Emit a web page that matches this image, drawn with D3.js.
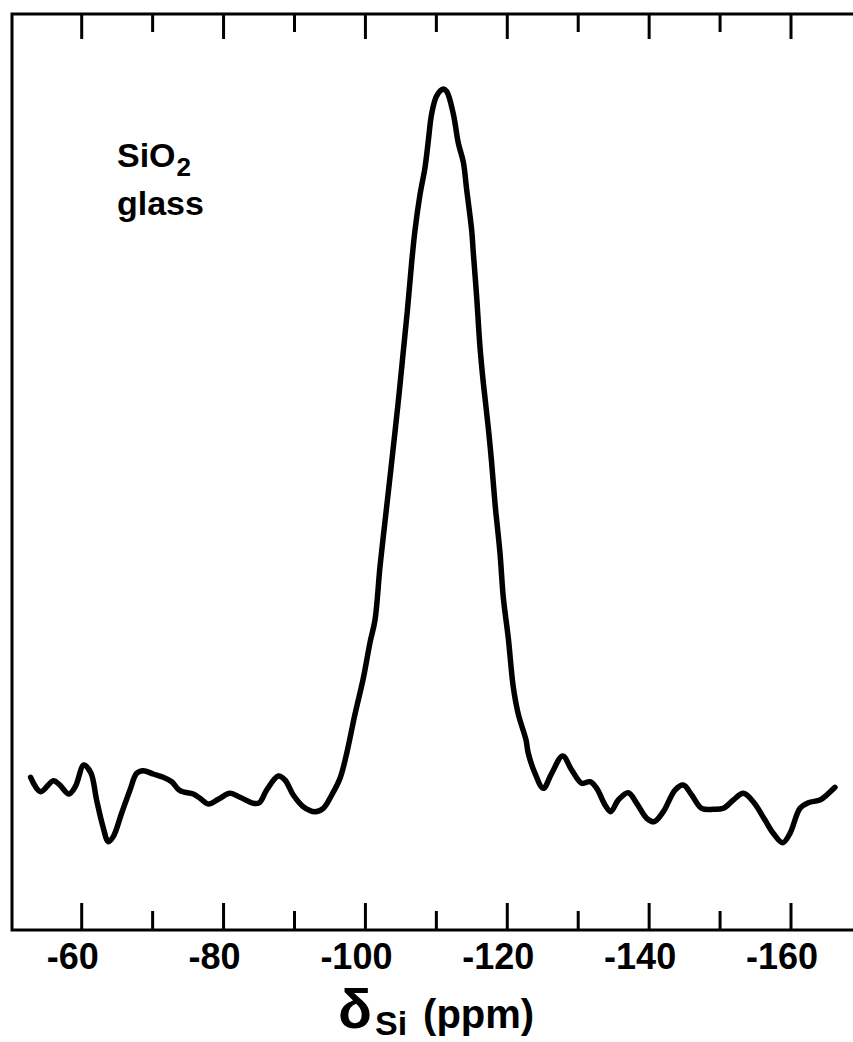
<!DOCTYPE html>
<html>
<head>
<meta charset="utf-8">
<script src="https://cdn.jsdelivr.net/npm/d3@7"></script>
<style>
  html, body { margin: 0; padding: 0; background: #fff; }
  svg { display: block; }
</style>
</head>
<body>
<div id="chart"></div>
<script>
// ---- data ----
const shiftPpm = [
  -52.8, -54.2, -56.0, -56.9, -58.2, -59.1, -60.3, -61.3, -62.1, -63.0,
  -63.75, -64.45, -65.64, -66.81, -67.75, -68.68, -70.09, -71.5, -72.69, -73.86,
  -75.73, -76.68, -77.85, -79.26, -80.91, -82.32, -84.19, -85.04, -86.08, -87.72,
  -88.66, -89.83, -91.24, -92.89, -94.06, -95.25, -96.42, -97.36,
  -98.53, -99.7, -100.65, -101.35, -102.06, -102.76, -103.47, -104.17, -104.78, -105.34,
  -105.91, -106.53, -106.99, -107.7, -108.4, -108.87, -109.34, -110.05, -110.98,
  -111.46, -112.39, -113.09, -113.8, -114.28, -114.98, -115.21, -115.69, -116.15, -116.62,
  -117.32, -117.8, -118.27, -118.97, -119.44, -120.14, -120.85, -121.55, -122.64, -122.96,
  -123.91, -125.08, -126.26, -127.81, -129.08, -130.49, -131.66, -132.61, -133.78, -134.58,
  -135.65, -137.06, -138.25, -139.66, -140.69, -142.0, -143.65, -144.82, -146.0, -147.41,
  -149.05, -150.46, -151.87, -153.27, -154.68, -156.33, -157.5, -158.83, -159.86, -161.27,
  -162.44, -164.09, -165.03, -166.2
];
const intensity = [
  3.19, 1.17, 2.71, 2.11, 0.84, 1.87, 4.92, 3.79, 0.0, -3.75,
  -5.86, -5.15, -1.83, 1.4, 3.75, 4.12, 3.65, 3.19, 2.57, 1.31,
  0.84, 0.24, -0.56, 0.1, 0.94, 0.38, -0.46, -0.38, 1.4, 3.37,
  2.81, 0.7, -0.94, -1.64, -1.17, 0.7, 3.05, 6.56,
  12.06, 17.09, 22.13, 25.28, 32.82, 39.12, 45.41, 51.7, 57.37, 63.03,
  68.69, 75.62, 80.03, 85.06, 88.83, 92.61, 96.38, 98.9, 99.85,
  99.52, 96.38, 92.3, 89.6, 85.69, 80.03, 76.88, 70.58, 63.67, 58.62,
  52.33, 47.3, 41.64, 34.72, 28.43, 22.77, 15.84, 12.06, 8.43, 6.56,
  3.75, 1.64, 3.75, 6.18, 4.21, 2.35, 2.57, 1.64, -0.7, -1.64,
  0.0, 1.03, -0.46, -2.57, -3.05, -1.64, 1.4, 2.11, 0.7, -1.17,
  -1.31, -1.17, 0.0, 0.94, -0.24, -2.81, -4.68, -6.0, -4.68, -1.17,
  -0.38, 0.0, 0.7, 1.78
];
const majorTicks = [-60, -80, -100, -120, -140, -160];
const minorTicks = [-70, -90, -110, -130, -150];
const tickLabels = ["-60", "-80", "-100", "-120", "-140", "-160"];
const sampleLabel = ["SiO", "2"];
const sampleLabel2 = "glass";
const axisTitle = { symbol: "δ", sub: "Si", unit: "(ppm)" };

// ---- layout ----
const W = 853, H = 1042;
const frame = { left: 12, top: 14, right: 875, bottom: 930 };

const x = d3.scaleLinear().domain([-60, -160]).range([81.7, 791]);
const y = d3.scaleLinear().domain([-18.26, 110.4]).range([frame.bottom, frame.top]);

const svg = d3.select("#chart").append("svg")
  .attr("width", W).attr("height", H)
  .style("background", "#fff");

const ink = "#000";
const font = "'Liberation Sans', Arial, sans-serif";

// frame
svg.append("rect")
  .attr("x", frame.left).attr("y", frame.top)
  .attr("width", frame.right - frame.left).attr("height", frame.bottom - frame.top)
  .attr("fill", "none").attr("stroke", ink).attr("stroke-width", 3);

// ticks (pointing inward, top and bottom), drawn as thin filled bars
const tickW = 3;
const tickSets = [
  { vals: majorTicks, top: 25, bottom: 27 },
  { vals: minorTicks, top: 18, bottom: 19 }
];
const tickG = svg.append("g").attr("class", "ticks");
tickSets.forEach(s => {
  tickG.append("g").selectAll("rect")
    .data(s.vals).join("rect")
    .attr("x", d => x(d) - tickW / 2).attr("width", tickW)
    .attr("y", frame.top).attr("height", s.top)
    .attr("fill", ink);
  tickG.append("g").selectAll("rect")
    .data(s.vals).join("rect")
    .attr("x", d => x(d) - tickW / 2).attr("width", tickW)
    .attr("y", frame.bottom - s.bottom).attr("height", s.bottom)
    .attr("fill", ink);
});

// tick labels
svg.append("g").selectAll("text")
  .data(majorTicks).join("text")
  .attr("x", d => x(d) - 9)
  .attr("y", 969)
  .attr("text-anchor", "middle")
  .attr("fill", ink)
  .style("font-family", font)
  .style("font-size", "36px")
  .style("font-weight", "bold")
  .text((d, i) => tickLabels[i]);

// spectrum line
const pts = shiftPpm.map((d, i) => [d, intensity[i]]);
const line = d3.line()
  .x(d => x(d[0])).y(d => y(d[1]))
  .curve(d3.curveCatmullRom.alpha(0.5));
svg.append("path")
  .datum(pts)
  .attr("d", line)
  .attr("fill", "none")
  .attr("stroke", ink)
  .attr("stroke-width", 5.5)
  .attr("stroke-linejoin", "round")
  .attr("stroke-linecap", "round");

// sample label
const lab = svg.append("text")
  .attr("x", 117).attr("y", 167)
  .attr("fill", ink)
  .style("font-family", font).style("font-size", "34px").style("font-weight", "bold");
lab.append("tspan").text(sampleLabel[0]);
lab.append("tspan").attr("dy", 9).attr("dx", 1).style("font-size", "26px").text(sampleLabel[1]);
svg.append("text")
  .attr("x", 117).attr("y", 215)
  .attr("fill", ink)
  .style("font-family", font).style("font-size", "34px").style("font-weight", "bold")
  .text(sampleLabel2);

// axis title
const t = svg.append("text")
  .attr("x", 338).attr("y", 1028)
  .attr("fill", ink)
  .style("font-family", font).style("font-weight", "bold");
t.append("tspan").style("font-size", "56px").text(axisTitle.symbol);
t.append("tspan").attr("dy", 7).attr("dx", 3).style("font-size", "34px").text(axisTitle.sub);
t.append("tspan").attr("dy", -7).attr("dx", 16).style("font-size", "40px").text(axisTitle.unit);
</script>
</body>
</html>
